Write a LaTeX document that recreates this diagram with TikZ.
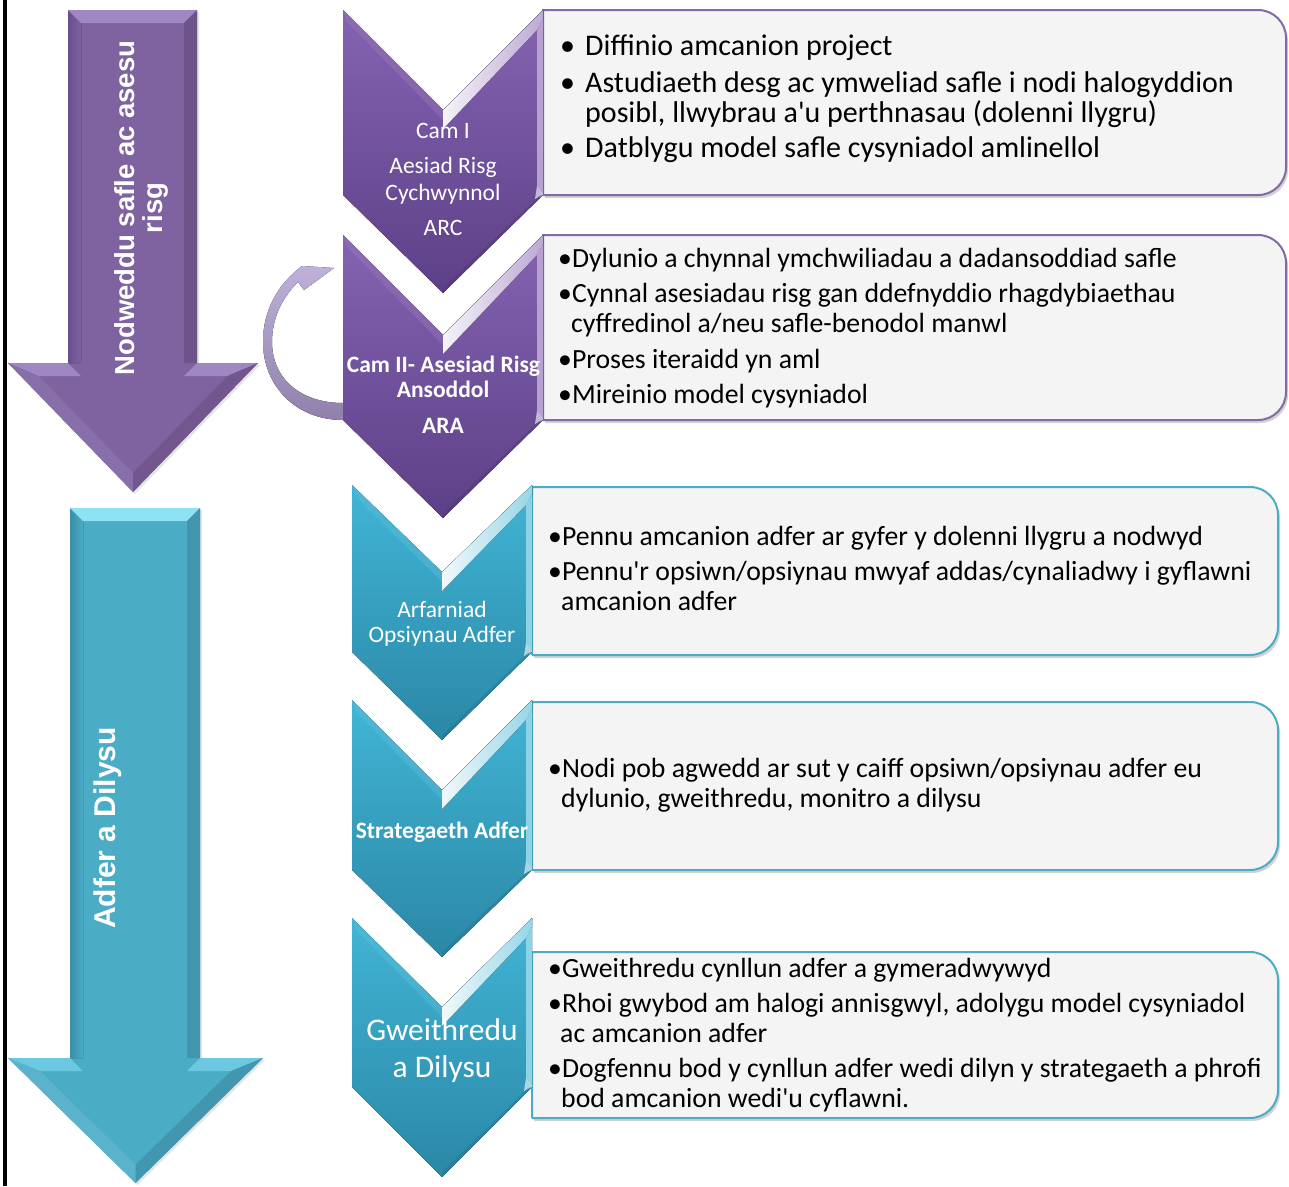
\documentclass[tikz,border=0pt]{standalone}
\usepackage{fontspec}
\setmainfont{Carlito}[Ligatures=TeXOff]
\newfontfamily\arb{Liberation Sans}
\definecolor{bp}{HTML}{7F63A1}
\definecolor{bpL}{HTML}{9E87C2}
\definecolor{bpD}{HTML}{684D8C}
\definecolor{bt}{HTML}{4BACC6}
\definecolor{btL}{HTML}{8EE2F4}
\definecolor{btM}{HTML}{6CC8E0}
\definecolor{btD}{HTML}{3A8EA7}
\definecolor{pcL}{HTML}{8563B2}
\definecolor{pcD}{HTML}{5C4087}
\definecolor{tcL}{HTML}{41B5D5}
\definecolor{tcD}{HTML}{2B87A6}
\definecolor{boxfill}{HTML}{F4F4F4}
\definecolor{pborder}{HTML}{8468A8}
\definecolor{tborder}{HTML}{4BACC6}
\definecolor{cvL}{HTML}{BFB1D9}
\definecolor{cvD}{HTML}{9080AB}
\tikzset{
 boxtext/.style={anchor=base west, inner sep=0pt, font=\fontsize{27.75}{28}\selectfont},
 boxtextA/.style={anchor=base west, inner sep=0pt, font=\fontsize{30}{30}\selectfont},
 chevtext/.style={anchor=base, inner sep=0pt, text=white, font=\fontsize{23.5}{24}\selectfont},
 chevbold/.style={anchor=base, inner sep=0pt, text=white, font=\fontsize{23.5}{24}\selectfont\bfseries},
 arrowtext/.style={rotate=90, text=white, align=center, inner sep=0pt},
}
% chevron: x1, x2, ytop, ynotch, yside, ytip, light, dark
\newcommand\chev[8]{%
 \pgfmathsetmacro\cxm{(#1+#2)/2}%
 \fill[top color=#7, bottom color=#8] (#1,#3) -- (\cxm,#4) -- (#2,#3) -- (#2,#5) -- (\cxm,#6) -- (#1,#5) -- cycle;
 \fill[#7!85!white, opacity=.4] (#1,#3) -- (\cxm,#4) -- (\cxm,{#4+10}) -- ({#1+4},{#3+12}) -- cycle;
 \fill[left color=white!92!#7, right color=#7!55!white] (\cxm,#4) -- (#2,#3) -- (#2,{#3+9}) -- ({#2-6},{#3+20}) -- (\cxm,{#4+19}) -- cycle;
 \fill[#7!60!white] ({#2-6},{#3+20}) -- (#2,{#3+9}) -- (#2,{#5-2}) -- ({#2-6},{#5-9}) -- cycle;
 \fill[white, opacity=.6] ({#2-6},{#5-9}) -- (#2,{#5-2}) -- (#2,#5) -- ({#2-8},{#5+4}) -- cycle;
 \fill[#8!80!black, opacity=.35] (#2,#5) -- (\cxm,#6) -- (\cxm,{#6-5}) -- ({#2-4},{#5+1}) -- cycle;
}
% text box: x1, x2, y1, y2, border colour
\newcommand\tbox[5]{%
 \fill[black!35, opacity=.5, shift={(2,3)}] (#1,#3) -- ({#2-28},#3) .. controls ({#2-12.5},#3) and (#2,{#3+12.5}) .. (#2,{#3+28}) -- (#2,{#4-28}) .. controls (#2,{#4-12.5}) and ({#2-12.5},#4) .. ({#2-28},#4) -- (#1,#4) -- cycle;
 \fill[boxfill] (#1,#3) -- ({#2-28},#3) .. controls ({#2-12.5},#3) and (#2,{#3+12.5}) .. (#2,{#3+28}) -- (#2,{#4-28}) .. controls (#2,{#4-12.5}) and ({#2-12.5},#4) .. ({#2-28},#4) -- (#1,#4) -- cycle;
 \draw[#5, line width=2pt] (#1,#4) -- (#1,#3) -- ({#2-28},#3) .. controls ({#2-12.5},#3) and (#2,{#3+12.5}) .. (#2,{#3+28}) -- (#2,{#4-28}) .. controls (#2,{#4-12.5}) and ({#2-12.5},#4) .. ({#2-28},#4) -- (#1,#4);
}
\begin{document}
\begin{tikzpicture}[x=1pt,y=-1pt]
\useasboundingbox (0,0) rectangle (1289,1186);
\fill[white] (0,0) rectangle (1289,1186);
\fill[black] (2.5,0) rectangle (7,1186);

% ---- big purple arrow ----
\fill[black!20, opacity=.5, shift={(2,2)}] (68,10) -- (197,10) -- (197,363) -- (258,363) -- (133,492) -- (8,363) -- (68,363) -- cycle;
\fill[bp] (68,10) -- (197,10) -- (197,363) -- (258,363) -- (133,492) -- (8,363) -- (68,363) -- cycle;
\fill[left color=bpD, right color=bp] (68,10) -- (81,23) -- (81,363) -- (68,363) -- cycle;
\fill[bpL] (68,10) -- (197,10) -- (184,23) -- (81,23) -- cycle;
\fill[bp!85!black] (197,10) -- (184,23) -- (184,363) -- (197,363) -- cycle;
\fill[bpL] (8,363) -- (68,363) -- (81,376) -- (38.6,376) -- cycle;
\fill[bpL] (197,363) -- (258,363) -- (227.4,376) -- (184,376) -- cycle;
\fill[bp!92!white] (8,363) -- (38.6,376) -- (133,473) -- (133,492) -- cycle;
\fill[bp!88!black] (258,363) -- (227.4,376) -- (133,473) -- (133,492) -- cycle;
\node[arrowtext, font=\arb\bfseries\fontsize{27.5}{28}\selectfont] (lefttop) at (141,208) {Nodweddu safle ac asesu\\risg};

% ---- big teal arrow ----
\fill[black!20, opacity=.5, shift={(2,2)}] (70,508) -- (200,508) -- (200,1058) -- (263,1058) -- (135.5,1183) -- (8,1058) -- (70,1058) -- cycle;
\fill[bt] (70,508) -- (200,508) -- (200,1058) -- (263,1058) -- (135.5,1183) -- (8,1058) -- (70,1058) -- cycle;
\fill[left color=btD, right color=bt] (70,508) -- (83,521) -- (83,1058) -- (70,1058) -- cycle;
\fill[btL] (70,508) -- (200,508) -- (187,521) -- (83,521) -- cycle;
\fill[bt!88!black] (200,508) -- (187,521) -- (187,1058) -- (200,1058) -- cycle;
\fill[btM] (8,1058) -- (70,1058) -- (83,1071) -- (39.9,1071) -- cycle;
\fill[btM] (200,1058) -- (263,1058) -- (231.1,1071) -- (187,1071) -- cycle;
\fill[bt!92!white] (8,1058) -- (39.9,1071) -- (135.5,1164.8) -- (135.5,1183) -- cycle;
\fill[bt!88!black] (263,1058) -- (231.1,1071) -- (135.5,1164.8) -- (135.5,1183) -- cycle;
\node[arrowtext, font=\arb\bfseries\fontsize{30}{31}\selectfont] (leftbot) at (108,828) {Adfer a Dilysu};

% ---- text boxes ----
\tbox{543}{1286}{10}{195}{pborder}
\tbox{543}{1286}{235}{420}{pborder}
\tbox{532}{1278}{487}{655}{tborder}
\tbox{532}{1278}{702}{870}{tborder}
\tbox{532}{1278}{952}{1118}{tborder}

% ---- iteration arrow ----
\fill[top color=cvL, bottom color=cvD] (343,420) .. controls (295,420) and (263,385) .. (263,342) .. controls (263,310) and (278,284) .. (302,266) -- (334,268) -- (304,290) -- (298,282) .. controls (282,298) and (272,318) .. (272,342) .. controls (272,378) and (300,403) .. (343,403) -- cycle;

% ---- chevrons ----
\chev{343}{543}{10}{110}{195}{293}{pcL}{pcD}
\chev{343}{543}{235}{335}{420}{518}{pcL}{pcD}
\chev{352}{532}{485}{572}{652}{740}{tcL}{tcD}
\chev{352}{532}{700}{790}{870}{957}{tcL}{tcD}
\chev{352}{532}{918}{1007}{1087}{1177}{tcL}{tcD}

% ---- chevron labels ----
\node[chevtext] (c1a) at (443,138) {Cam I};
\node[chevtext] (c1b) at (443,173) {Aesiad Risg};
\node[chevtext] (c1c) at (443,200) {Cychwynnol};
\node[chevtext] (c1d) at (443,235) {ARC};
\node[chevbold] (c2a) at (443.5,372) {Cam II- Asesiad Risg};
\node[chevbold] (c2b) at (443,397) {Ansoddol};
\node[chevbold] (c2c) at (443,433) {ARA};
\node[chevtext] (c3a) at (442,617) {Arfarniad};
\node[chevtext] (c3b) at (442,642) {Opsiynau Adfer};
\node[chevbold] (c4a) at (442,838) {Strategaeth Adfer};
\node[chevtext, font=\fontsize{31.5}{32}\selectfont] (c5a) at (442,1040) {Gweithredu};
\node[chevtext, font=\fontsize{31.5}{32}\selectfont] (c5b) at (442,1077) {a Dilysu};

% ---- box texts ----
\node[boxtextA] (t1a) at (560,55) {\makebox[25pt][l]{•}Diffinio amcanion project};
\node[boxtextA] (t1b) at (560,92) {\makebox[25pt][l]{•}Astudiaeth desg ac ymweliad safle i nodi halogyddion};
\node[boxtextA] (t1c) at (585,122) {posibl, llwybrau a'u perthnasau (dolenni llygru)};
\node[boxtextA] (t1d) at (560,157) {\makebox[25pt][l]{•}Datblygu model safle cysyniadol amlinellol};

\node[boxtext] (t2a) at (558,267) {•Dylunio a chynnal ymchwiliadau a dadansoddiad safle};
\node[boxtext] (t2b) at (558,302) {•Cynnal asesiadau risg gan ddefnyddio rhagdybiaethau};
\node[boxtext] (t2c) at (571,332) {cyffredinol a/neu safle-benodol manwl};
\node[boxtext] (t2d) at (558,368) {•Proses iteraidd yn aml};
\node[boxtext] (t2e) at (558,403) {•Mireinio model cysyniadol};

\node[boxtext] (t3a) at (548,545) {•Pennu amcanion adfer ar gyfer y dolenni llygru a nodwyd};
\node[boxtext] (t3b) at (548,580) {•Pennu'r opsiwn/opsiynau mwyaf addas/cynaliadwy i gyflawni};
\node[boxtext] (t3c) at (561,610) {amcanion adfer};

\node[boxtext] (t4a) at (548,777) {•Nodi pob agwedd ar sut y caiff opsiwn/opsiynau adfer eu};
\node[boxtext] (t4b) at (561,807) {dylunio, gweithredu, monitro a dilysu};

\node[boxtext] (t5a) at (548,977) {•Gweithredu cynllun adfer a gymeradwywyd};
\node[boxtext] (t5b) at (548,1012) {•Rhoi gwybod am halogi annisgwyl, adolygu model cysyniadol};
\node[boxtext] (t5c) at (560,1042) {ac amcanion adfer};
\node[boxtext] (t5d) at (548,1077) {•Dogfennu bod y cynllun adfer wedi dilyn y strategaeth a phrofi};
\node[boxtext] (t5e) at (561,1107) {bod amcanion wedi'u cyflawni.};
\end{tikzpicture}
\end{document}
